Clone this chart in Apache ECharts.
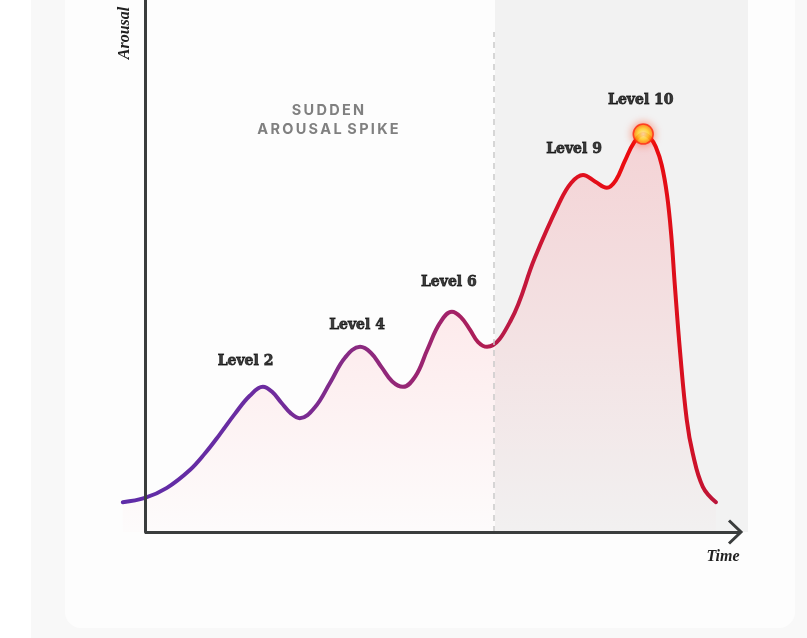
<!DOCTYPE html>
<html>
<head>
<meta charset="utf-8">
<script src="https://cdn.jsdelivr.net/npm/echarts@6/dist/echarts.min.js"></script>
<style>
  html, body { margin: 0; padding: 0; background: #ffffff; }
  #chart { width: 807px; height: 638px; }
</style>
</head>
<body>
<div id="chart"></div>
<script>
// Arousal curve over time (time 0..100 along x-axis, arousal 0..100 along y-axis)
const curveTime = [-3.7, 0.0, 3.7, 7.6, 10.1, 12.6, 15.1, 17.6, 19.8, 21.3, 22.9, 24.5, 26.0, 28.5, 31.1, 33.6, 36.1, 37.9, 39.7, 41.5, 43.3, 45.4, 47.4, 49.5, 51.5, 53.0, 54.5, 55.9, 57.4, 61.4, 65.4, 69.5, 71.5, 73.5, 75.5, 77.5, 79.0, 80.5, 82.1, 83.6, 84.9, 85.7, 86.7, 87.6, 88.3, 88.9, 89.8, 90.9, 91.9, 93.6, 95.8];
const curveArousal = [5.6, 6.4, 8.3, 11.7, 14.8, 18.4, 22.2, 25.6, 27.3, 26.4, 24.3, 22.3, 21.4, 23.4, 28.1, 32.8, 34.8, 33.7, 31.0, 28.3, 27.3, 29.3, 34.3, 39.3, 41.4, 40.4, 38.1, 35.7, 34.8, 39.8, 51.5, 61.8, 65.6, 67.1, 65.9, 64.7, 66.1, 69.7, 73.3, 74.8, 73.9, 72.4, 69.0, 63.3, 55.8, 46.4, 33.6, 21.1, 14.8, 8.5, 5.6];

// Level labels
const levelNames = ['Level 2', 'Level 4', 'Level 6', 'Level 9', 'Level 10'];
const levelTime = [16.9, 35.6, 51.0, 72.0, 83.2];
const levelArousal = [32.1, 38.9, 47.0, 72.0, 81.2];

// Axis extent and spike region
const timeMin = -4, timeMax = 100;
const spikeStart = 58.6;
const spikeTop = 94;

const curveData = curveTime.map((t, i) => [t, curveArousal[i]]);
let peakIdx = 0;
curveArousal.forEach((v, i) => { if (v > curveArousal[peakIdx]) peakIdx = i; });
const peakPoint = curveData[peakIdx];
const labelData = levelNames.map((n, i) => [levelTime[i], levelArousal[i], n]);

const chart = echarts.init(document.getElementById('chart'), null, { renderer: 'canvas' });

const option = {
  backgroundColor: '#ffffff',
  animation: false,
  grid: { left: 121, top: 0, width: 620, height: 532 },
  xAxis: {
    type: 'value', min: timeMin, max: timeMax,
    axisLine: { show: false },
    axisTick: { show: false }, axisLabel: { show: false }, splitLine: { show: false }
  },
  yAxis: {
    type: 'value', min: 0, max: 100,
    axisLine: { show: true, onZero: true, lineStyle: { color: '#3a3d3d', width: 3 } },
    axisTick: { show: false }, axisLabel: { show: false }, splitLine: { show: false },
    z: 5
  },
  graphic: [
    { type: 'rect', z: -10, shape: { x: 31, y: 0, width: 776, height: 638 }, style: { fill: '#f8f8f8' } },
    { type: 'rect', z: -9, shape: { x: 65, y: -30, width: 730, height: 658, r: 16 }, style: { fill: '#fdfdfd' } },
    { type: 'rect', z: -8, shape: { x: 495, y: 0, width: 253, height: 532 }, style: { fill: '#f2f2f2' } },
    { type: 'polyline', z: 10, shape: { points: [[729, 520.5], [741, 532], [729, 543.5]] },
      style: { stroke: '#3a3d3d', lineWidth: 3, fill: null, lineJoin: 'miter' } },
    { type: 'text', z: 10, x: 125, y: 33, rotation: Math.PI / 2,
      style: { text: 'Arousal', font: 'italic bold 16px "Liberation Serif"', fill: '#222', align: 'center', verticalAlign: 'middle' } },
    { type: 'text', z: 10, x: 723, y: 557,
      style: { text: 'Time', font: 'italic bold 16px "Liberation Serif"', fill: '#222', align: 'center', verticalAlign: 'middle' } },
    { type: 'text', z: 10, x: 328, y: 120,
      style: { text: 'S\u2009U\u2009D\u2009D\u2009E\u2009N\nA\u2009R\u2009O\u2009U\u2009S\u2009A\u2009L \u2009S\u2009P\u2009I\u2009K\u2009E',
        font: 'bold 14.5px Inter', fill: '#808080', align: 'center', verticalAlign: 'middle', lineHeight: 19 } }
  ],
  series: [
    {
      type: 'line',
      data: curveData,
      smooth: 0.4,
      showSymbol: false,
      z: 3,
      lineStyle: {
        width: 4, cap: 'round', join: 'round',
        color: new echarts.graphic.LinearGradient(0, 0, 1, 0, [
          { offset: 0, color: '#5e2ca8' },
          { offset: 0.24, color: '#6c2ca0' },
          { offset: 0.40, color: '#8a2a80' },
          { offset: 0.55, color: '#a2226a' },
          { offset: 0.62, color: '#b21c4e' },
          { offset: 0.77, color: '#e0101e' },
          { offset: 0.88, color: '#f00a0a' },
          { offset: 0.94, color: '#d81020' },
          { offset: 1, color: '#b8163c' }
        ])
      },
      areaStyle: {
        color: new echarts.graphic.LinearGradient(0, 0, 0, 1, [
          { offset: 0, color: 'rgba(255,40,55,0.22)' },
          { offset: 1, color: 'rgba(255,40,55,0.01)' }
        ])
      },
      markLine: {
        silent: true, symbol: 'none', label: { show: false },
        data: [
          [{ coord: [spikeStart, 0], lineStyle: { color: '#c9c9c9', type: [6, 5], width: 1.5 } },
           { coord: [spikeStart, spikeTop] }],
          [{ coord: [0, 0], lineStyle: { color: '#3a3d3d', type: 'solid', width: 3 } },
           { coord: [timeMax, 0] }]
        ]
      }
    },
    {
      type: 'scatter',
      data: labelData,
      symbolSize: 1,
      itemStyle: { color: 'transparent' },
      z: 6,
      label: {
        show: true, position: 'inside',
        formatter: p => p.value[2],
        fontFamily: 'DejaVu Serif', fontWeight: 'bold', fontSize: 14,
        color: '#0d0d0d', textBorderColor: '#0d0d0d', textBorderWidth: 0.8
      }
    },
    {
      type: 'scatter',
      data: [peakPoint],
      symbolSize: 20,
      z: 7,
      itemStyle: {
        color: new echarts.graphic.RadialGradient(0.5, 0.5, 0.5, [
          { offset: 0, color: '#ffffc8' },
          { offset: 0.5, color: '#fff030' },
          { offset: 0.8, color: '#ffa010' },
          { offset: 1, color: '#ff3010' }
        ]),
        borderColor: '#ff2a10', borderWidth: 1.5,
        shadowBlur: 8, shadowColor: 'rgba(255,60,20,0.7)'
      }
    }
  ]
};

chart.setOption(option);
</script>
</body>
</html>
